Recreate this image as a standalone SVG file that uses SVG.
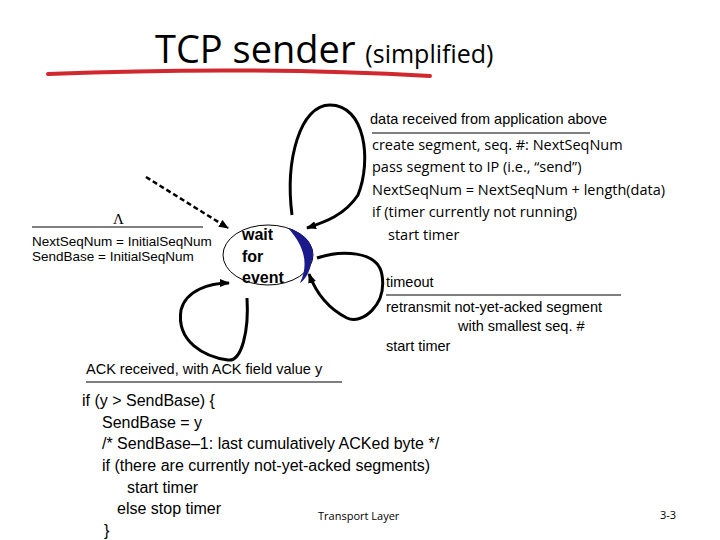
<svg xmlns="http://www.w3.org/2000/svg" width="720" height="540" viewBox="0 0 720 540">
<style>
.t{font-family:"Liberation Sans",Arial,sans-serif;font-size:14.5px;fill:#000}
.c{font-family:"Open Sans","Liberation Sans",sans-serif;font-size:14.5px;fill:#000;font-weight:500}
.f{font-family:"Open Sans","Liberation Sans",sans-serif;font-size:11px;fill:#000}
.b{font-family:"Liberation Sans",Arial,sans-serif;font-size:16px;fill:#000}
.ln{stroke:#000;stroke-width:1}
.loop{fill:none;stroke:#000;stroke-width:3}
</style>
<defs>
<marker id="ah" markerWidth="10" markerHeight="8" refX="9" refY="4" orient="auto" markerUnits="userSpaceOnUse"><path d="M0,0 L10,4 L0,8 z" fill="#000"/></marker>
</defs>
<rect width="720" height="540" fill="#fff"/>
<g id="title">
<text x="155" y="63" font-family="'Open Sans','Liberation Sans',sans-serif" font-size="38" fill="#000">TCP sender <tspan font-size="25">(simplified)</tspan></text>
<path d="M48,74 Q250,66 430,76" fill="none" stroke="#d0282e" stroke-width="4" stroke-linecap="round"/>
</g>
<g id="connectors">
<line x1="146" y1="177" x2="228" y2="228" stroke="#000" stroke-width="2.5" stroke-dasharray="5,3" marker-end="url(#ah)"/>
<path class="loop" d="M292,215 C285,160 300,105 330,105 C365,105 372,160 358,195 C345,215 325,222 307,228" marker-end="url(#ah)"/>
<path class="loop" d="M317,258 C340,250 378,250 382,275 C387,305 362,325 347,318 C327,308 315,290 309,274" marker-end="url(#ah)"/>
<path class="loop" d="M247,298 C249,330 242,362 228,360 C205,357 176,342 181,310 C186,290 210,283 229,283" marker-end="url(#ah)"/>
</g>
<g id="state">
<ellipse cx="268" cy="255" rx="45" ry="30" fill="#fff" stroke="#000" stroke-width="1"/>
<path d="M288,228 C305,233 316,245 312,260 C310,272 305,280 300,283 C307,268 308,250 288,228 z" fill="#1a1a8c"/>
<text class="b" font-weight="bold" x="242" y="240">wait</text>
<text class="b" font-weight="bold" x="242" y="262">for</text>
<text class="b" font-weight="bold" x="242" y="283">event</text>
</g>
<g id="init">
<text x="113" y="224" font-family="'Liberation Serif',serif" font-size="15">Λ</text>
<line class="ln" x1="32" y1="227" x2="203" y2="227"/>
<text class="t" style="font-size:13.5px" x="32" y="246">NextSeqNum = InitialSeqNum</text>
<text class="t" style="font-size:13.5px" x="32" y="261">SendBase = InitialSeqNum</text>
</g>
<g id="data">
<text class="t" x="370" y="124">data received from application above</text>
<line class="ln" x1="372" y1="133" x2="590" y2="133"/>
<text class="c" x="372" y="150">create segment, seq. #: NextSeqNum</text>
<text class="c" x="372" y="172">pass segment to IP (i.e., “send”)</text>
<text class="c" x="372" y="195">NextSeqNum = NextSeqNum + length(data)</text>
<text class="c" x="372" y="217">if (timer currently not running)</text>
<text class="c" x="388" y="240">start timer</text>
</g>
<g id="timeout">
<text class="t" x="386" y="287">timeout</text>
<line class="ln" x1="386" y1="295" x2="621" y2="295"/>
<text class="t" x="386" y="312">retransmit not-yet-acked segment</text>
<text class="t" x="458" y="331">with smallest seq. #</text>
<text class="t" x="386" y="351">start timer</text>
</g>
<g id="ack">
<text class="t" x="86" y="374">ACK received, with ACK field value y</text>
<line class="ln" x1="86" y1="382" x2="342" y2="382"/>
<text class="b" x="82" y="406">if (y &gt; SendBase) {</text>
<text class="b" x="102" y="428">SendBase = y</text>
<text class="b" x="102" y="449">/* SendBase–1: last cumulatively ACKed byte */</text>
<text class="b" x="102" y="471">if (there are currently not-yet-acked segments)</text>
<text class="b" x="127" y="493">start timer</text>
<text class="b" x="117" y="514">else stop timer</text>
<text class="b" x="104" y="536">}</text>
</g>
<g id="footer">
<text class="f" x="318" y="520">Transport Layer</text>
<text class="f" x="660" y="519">3-3</text>
</g>
</svg>
